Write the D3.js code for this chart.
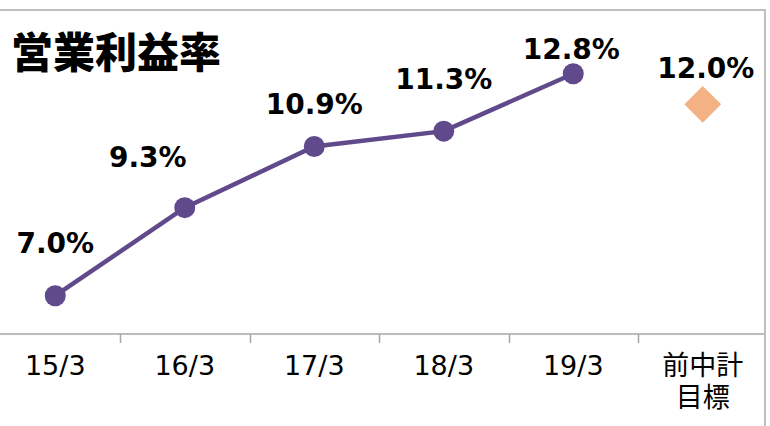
<!DOCTYPE html>
<html>
<head>
<meta charset="utf-8">
<script src="https://cdn.jsdelivr.net/npm/d3@7"></script>
<style>
  body { margin: 0; background: #fff; }
  svg { display: block; }
</style>
</head>
<body>
<svg width="770" height="426"></svg>
<script>
// data
var categories = ["15/3", "16/3", "17/3", "18/3", "19/3", "前中計\n目標"];
var actual = [7.0, 9.3, 10.9, 11.3, 12.8];
var target = 12.0;   // 前中計目標
var title = "営業利益率";

// label nudges (layout only)
var labelShift = [[0, -43], [-37, -41], [0, -32], [0, -42], [-2, -15], [3, -26]];

var svg = d3.select("svg"),
    width = +svg.attr("width"),
    height = +svg.attr("height");

var purple = "#604a8c",
    orange = "#f4b183",
    font = "Verdana, 'DejaVu Sans', 'Noto Sans CJK JP', sans-serif";

// frame (left/bottom edges fall outside the crop)
svg.append("rect")
    .attr("x", -20).attr("y", 10)
    .attr("width", 785).attr("height", 440)
    .attr("fill", "#fff")
    .attr("stroke", "#bfbfbf")
    .attr("stroke-width", 2);

var x = d3.scaleBand()
    .domain(categories)
    .range([-9.5, 767.5]);

var y = d3.scaleLinear()
    .domain([6, 14])
    .range([334, 27.8]);

function cx(i) { return x(categories[i]) + x.bandwidth() / 2; }

// axis line + ticks between categories
var axisY = y(6);
svg.append("line")
    .attr("x1", 0).attr("x2", 764)
    .attr("y1", axisY).attr("y2", axisY)
    .attr("stroke", "#a6a6a6").attr("stroke-width", 1.5);

svg.selectAll(".tick")
    .data(categories.slice(1))
    .enter().append("line")
      .attr("x1", function(d){ return Math.round(x(d)) + 0.5 })
      .attr("x2", function(d){ return Math.round(x(d)) + 0.5 })
      .attr("y1", axisY).attr("y2", axisY + 9)
      .attr("stroke", "#a6a6a6").attr("stroke-width", 1.5);

var lbl = svg.selectAll(".xlab")
    .data(categories)
    .enter().append("text")
      .attr("text-anchor", "middle")
      .attr("font-family", font)
      .attr("font-size", "27px")
      .attr("fill", "#000");
lbl.each(function(d, i) {
  var t = d3.select(this);
  d.split("\n").forEach(function(line, k) {
    t.append("tspan")
      .attr("x", cx(i))
      .attr("y", 375 + k * 32)
      .text(line);
  });
});

// line of actual values
var line = d3.line()
    .x(function(d, i){ return cx(i) })
    .y(function(d){ return y(d) });

svg.append("path")
    .datum(actual)
    .attr("d", line)
    .attr("fill", "none")
    .attr("stroke", purple)
    .attr("stroke-width", 4.5);

svg.selectAll(".dot")
    .data(actual)
    .enter().append("circle")
      .attr("cx", function(d, i){ return cx(i) })
      .attr("cy", function(d){ return y(d) })
      .attr("r", 10.5)
      .attr("fill", purple);

// target diamond
svg.append("path")
    .attr("d", d3.symbol().type(d3.symbolSquare).size(26 * 26)())
    .attr("transform", "translate(" + cx(5) + "," + y(target) + ") rotate(45)")
    .attr("fill", orange);

// value labels
var allVals = actual.concat([target]);
svg.selectAll(".val")
    .data(allVals)
    .enter().append("text")
      .attr("x", function(d, i){ return cx(i) + labelShift[i][0] })
      .attr("y", function(d, i){ return y(d) + labelShift[i][1] })
      .attr("text-anchor", "middle")
      .attr("font-family", font)
      .attr("font-weight", "bold")
      .attr("font-size", "28px")
      .attr("fill", "#000")
      .text(function(d){ return d.toFixed(1) + "%" });

// title
svg.append("text")
    .attr("x", 11).attr("y", 68)
    .attr("font-family", "'Noto Sans CJK JP', sans-serif")
    .attr("font-weight", "900")
    .attr("font-size", "42px")
    .attr("fill", "#000")
    .text(title);
</script>
</body>
</html>
